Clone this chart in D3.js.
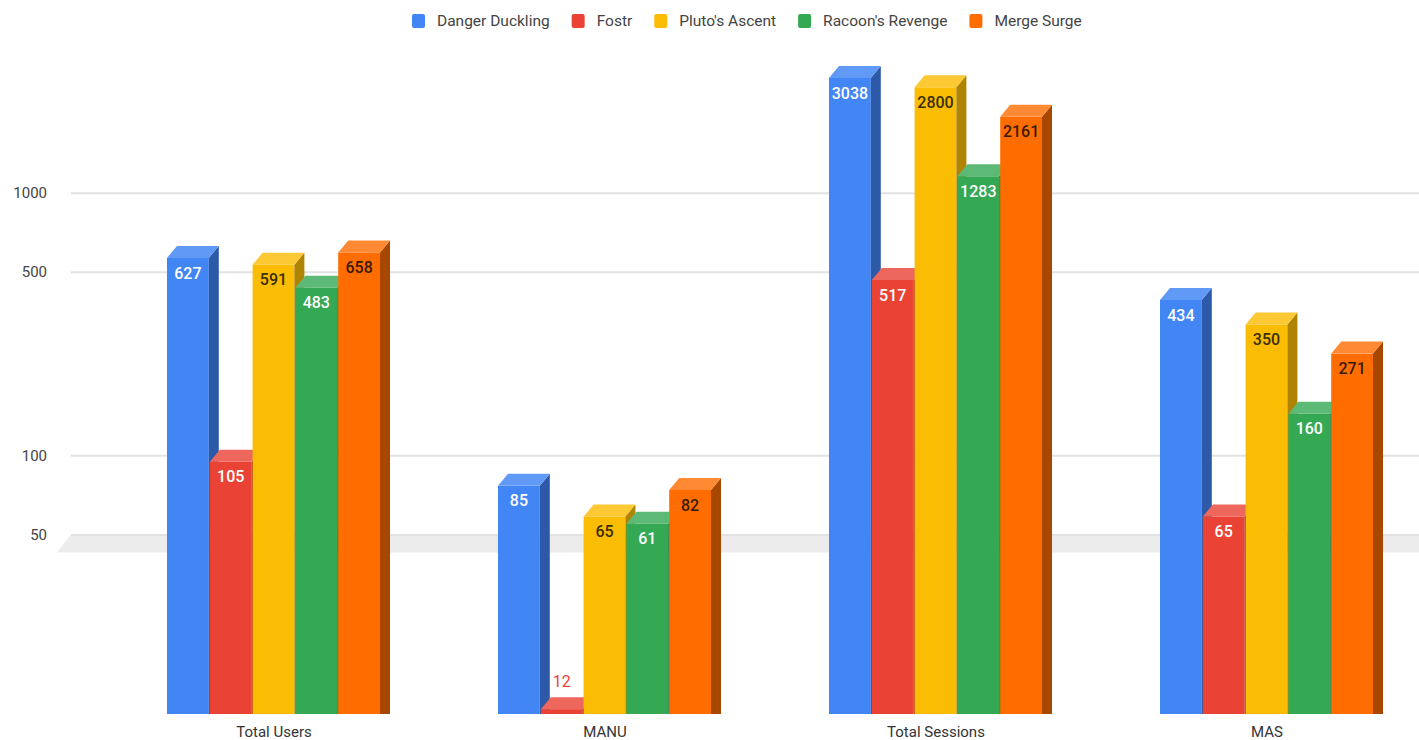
<!DOCTYPE html>
<html>
<head>
<meta charset="utf-8">
<script src="https://cdn.jsdelivr.net/npm/d3@7"></script>
<style>
  body { margin: 0; background: #fff; }
  text { font-family: Roboto, Arial, sans-serif; }
</style>
</head>
<body>
<div id="chart"></div>
<script>
// --- Data ---
const categories = ["Total Users", "MANU", "Total Sessions", "MAS"];
const seriesNames = ["Danger Duckling", "Fostr", "Pluto's Ascent", "Racoon's Revenge", "Merge Surge"];
const dangerDuckling = [627, 85, 3038, 434];
const fostr = [105, 12, 517, 65];
const plutosAscent = [591, 65, 2800, 350];
const racoonsRevenge = [483, 61, 1283, 160];
const mergeSurge = [658, 82, 2161, 271];
const yTicks = [50, 100, 500, 1000];

const seriesValues = [dangerDuckling, fostr, plutosAscent, racoonsRevenge, mergeSurge];

// front / side / top colours, and label colour
const palette = [
  { front: "#4285f4", side: "#2c5aa8", top: "#6199f6", label: "#ffffff" },
  { front: "#ea4335", side: "#a52e24", top: "#ee675c", label: "#ffffff" },
  { front: "#fbbc04", side: "#b08403", top: "#fcc934", label: "#3a2f00" },
  { front: "#34a853", side: "#24763a", top: "#5cba76", label: "#ffffff" },
  { front: "#ff6d01", side: "#a84800", top: "#ff8a33", label: "#3a1a00" }
];

const W = 1419, H = 740;
const depthX = 10, depthY = 12;
const plotLeft = 71, plotRight = W;

const svg = d3.select("#chart").append("svg")
  .attr("width", W)
  .attr("height", H);

// --- Scales ---
const y = d3.scaleLog()
  .domain([11.5, 1000])
  .range([702, 192.7]);
const baseY = y(11.5) + depthY;

const x0 = d3.scaleBand()
  .domain(categories)
  .range([108.5, 1432.5]);

const x1 = d3.scaleBand()
  .domain(seriesNames)
  .range([0, 214]);

const groupOffset = (x0.bandwidth() - 214) / 2;

// --- Floor band at 50 ---
const y50 = y(50);
svg.append("path")
  .attr("d", `M${plotLeft},${y50} L${plotRight},${y50} L${plotRight},${y50 + 18} L${plotLeft - 14},${y50 + 18} Z`)
  .style("fill", "#ececec");

// --- Gridlines and y axis ---
const yAxis = svg.append("g")
  .attr("transform", `translate(${plotLeft},0)`)
  .call(d3.axisLeft(y).tickValues(yTicks).tickFormat(d3.format("d"))
    .tickSize(-(plotRight - plotLeft)).tickPadding(24));
yAxis.select(".domain").remove();
yAxis.selectAll(".tick line")
  .style("stroke", "#e2e2e2")
  .style("stroke-width", 2);
yAxis.selectAll(".tick text")
  .style("font-size", "15px")
  .style("fill", "#444")
  .style("font-family", "Roboto, Arial, sans-serif");

// --- 3D bars ---
const bars = svg.append("g");
categories.forEach((cat, ci) => {
  seriesNames.forEach((name, si) => {
    const v = seriesValues[si][ci];
    const c = palette[si];
    const bx = x0(cat) + groupOffset + x1(name);
    const bw = x1.bandwidth() - 1;
    const yb = y(v);          // back edge of top face
    const yf = yb + depthY;   // front edge of top face

    bars.append("rect")
      .attr("x", bx).attr("y", yf)
      .attr("width", bw).attr("height", baseY - yf)
      .style("fill", c.front);

    bars.append("path")
      .attr("d", `M${bx + bw},${yf} L${bx + bw + depthX},${yb} L${bx + bw + depthX},${baseY} L${bx + bw},${baseY} Z`)
      .style("fill", c.side);

    bars.append("path")
      .attr("d", `M${bx},${yf} L${bx + depthX},${yb} L${bx + bw + depthX},${yb} L${bx + bw},${yf} Z`)
      .style("fill", c.top);

    const inside = baseY - yf > 25;
    bars.append("text")
      .attr("x", bx + bw / 2)
      .attr("y", inside ? yf + 15 : yb - 16)
      .attr("dy", "0.35em")
      .style("text-anchor", "middle")
      .style("font-size", "16px")
      .style("font-weight", inside ? 500 : 400)
      .style("fill", inside ? c.label : c.front)
      .text(v);
  });
});

// --- Category labels ---
svg.append("g")
  .selectAll("text")
  .data(categories)
  .join("text")
  .attr("x", d => x0(d) + x0.bandwidth() / 2)
  .attr("y", 737)
  .style("text-anchor", "middle")
  .style("font-size", "15px")
  .style("fill", "#333")
  .text(d => d);

// --- Legend ---
const legend = svg.append("g");
let lx = 412;
seriesNames.forEach((name, i) => {
  legend.append("rect")
    .attr("x", lx).attr("y", 14)
    .attr("width", 13).attr("height", 14)
    .attr("rx", 2)
    .style("fill", palette[i].front);
  const t = legend.append("text")
    .attr("x", lx + 25).attr("y", 21)
    .attr("dy", "0.35em")
    .style("font-size", "15.5px")
    .style("fill", "#444")
    .text(name);
  lx += 25 + t.node().getComputedTextLength() + 22;
});
</script>
</body>
</html>
